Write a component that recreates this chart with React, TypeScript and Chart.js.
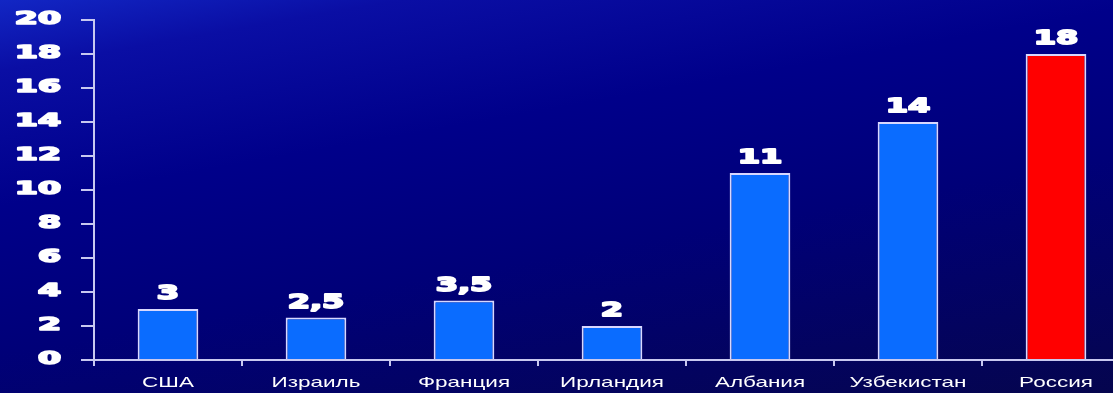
import React, { useEffect, useRef } from "react";
import { Chart, registerables } from "chart.js";

Chart.register(...registerables);

// Countries and their values
const categories = ["США", "Израиль", "Франция", "Ирландия", "Албания", "Узбекистан", "Россия"];
const values = [3, 2.5, 3.5, 2, 11, 14, 18];
const barColors = ["#0a6cff", "#0a6cff", "#0a6cff", "#0a6cff", "#0a6cff", "#0a6cff", "#ff0000"];
const yTicks = [0, 2, 4, 6, 8, 10, 12, 14, 16, 18, 20];

const formatValue = (v: number) => String(v).replace(".", ",");

// Draws horizontally widened text; an optional stroke makes it heavier
function wideText(
  ctx: CanvasRenderingContext2D,
  text: string,
  x: number,
  y: number,
  sx: number,
  align: CanvasTextAlign,
  baseline: CanvasTextBaseline,
  heavy = 0
) {
  ctx.save();
  ctx.translate(x, y);
  ctx.scale(sx, 1);
  ctx.textAlign = align;
  ctx.textBaseline = baseline;
  ctx.fillText(text, 0, 0);
  if (heavy > 0) {
    ctx.lineWidth = heavy;
    ctx.lineJoin = "round";
    ctx.strokeText(text, 0, 0);
  }
  ctx.restore();
}

const labelsPlugin = {
  id: "wideLabels",
  afterDraw(chart: any) {
    const ctx: CanvasRenderingContext2D = chart.ctx;
    const yScale = chart.scales.y;
    const xScale = chart.scales.x;
    ctx.save();
    ctx.fillStyle = "#ffffff";
    ctx.strokeStyle = "#ffffff";

    // y-axis tick labels
    ctx.font = 'bold 17px "DejaVu Sans"';
    yTicks.forEach((t) => {
      wideText(ctx, String(t), 61, yScale.getPixelForValue(t), 1.95, "right", "middle", 1.6);
    });

    // value labels above the bars
    ctx.font = 'bold 20px "DejaVu Sans"';
    const meta = chart.getDatasetMeta(0);
    meta.data.forEach((bar: any, i: number) => {
      wideText(ctx, formatValue(values[i]), bar.x, bar.y - 10, 1.6, "center", "alphabetic", 1.8);
    });

    // category labels
    ctx.font = '15px "Liberation Sans"';
    categories.forEach((c, i) => {
      wideText(ctx, c, xScale.getPixelForValue(i), 387, 1.5, "center", "alphabetic");
    });
    ctx.restore();
  },
};

export default function App() {
  const canvasRef = useRef<HTMLCanvasElement | null>(null);

  useEffect(() => {
    if (!canvasRef.current) return;
    const axisColor = "#c8c8f0";
    const chart = new Chart(canvasRef.current, {
      type: "bar",
      data: {
        labels: categories,
        datasets: [
          {
            data: values,
            backgroundColor: barColors,
            borderColor: "#d8d8ff",
            borderWidth: 2,
            barPercentage: 0.41,
            categoryPercentage: 1,
          },
        ],
      },
      options: {
        animation: false,
        responsive: false,
        maintainAspectRatio: false,
        layout: { padding: { top: 20, left: 0, right: 0, bottom: 0 } },
        plugins: { legend: { display: false }, tooltip: { enabled: false } },
        scales: {
          x: {
            offset: true,
            grid: {
              offset: true,
              drawOnChartArea: false,
              drawTicks: true,
              tickLength: 6,
              color: axisColor,
              lineWidth: 2,
            },
            border: { color: axisColor, width: 2 },
            ticks: { callback: () => "", padding: 0 },
            afterFit: (scale: any) => {
              scale.height = 33;
            },
          },
          y: {
            min: 0,
            max: 20,
            ticks: { stepSize: 2, callback: () => "", padding: 0 },
            grid: {
              drawOnChartArea: false,
              drawTicks: true,
              tickLength: 13,
              color: axisColor,
              lineWidth: 2,
            },
            border: { color: axisColor, width: 2 },
            afterFit: (scale: any) => {
              scale.width = 94;
            },
          },
        },
      },
      plugins: [labelsPlugin],
    });
    return () => chart.destroy();
  }, []);

  return (
    <div
      style={{
        position: "fixed",
        left: 0,
        top: 0,
        width: 1113,
        height: 393,
        overflow: "hidden",
        background:
          "linear-gradient(170deg, #1226c4 0%, #0a0ea4 12%, #00008a 35%, #000078 60%, #05054e 100%)",
      }}
    >
      <canvas ref={canvasRef} width={1130} height={393} style={{ display: "block" }} />
    </div>
  );
}
